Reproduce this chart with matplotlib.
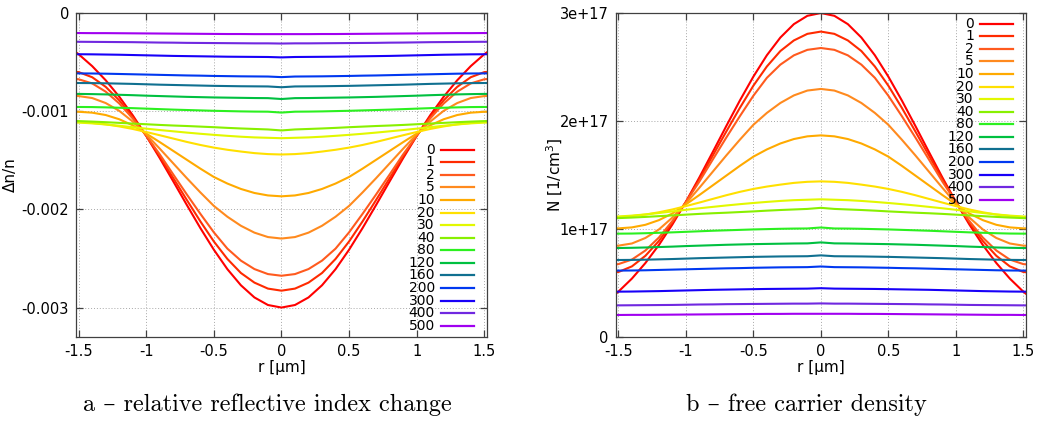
"""Carrier density and refractive index change profiles for several delays."""

import numpy as np
import matplotlib

matplotlib.use("Agg")
import matplotlib.pyplot as plt

# radial positions of the half profile [um]; profiles are symmetric in r
r_half = [0.0, 0.1, 0.2, 0.3, 0.4, 0.5, 0.6, 0.7, 0.8, 0.9, 1.0,
          1.1, 1.2, 1.3, 1.4, 1.5, 1.52]

# delay labels of the curves
delays = ["0", "1", "2", "5", "10", "20", "30", "40", "80", "120", "160",
          "200", "300", "400", "500"]

# free carrier density, in units of 1e17 1/cm^3
n_t0 = [3.000, 2.974, 2.897, 2.773, 2.609, 2.411, 2.190, 1.955, 1.715, 1.478, 1.252,
        1.042, 0.852, 0.685, 0.541, 0.420, 0.400]
n_t1 = [2.828, 2.807, 2.746, 2.648, 2.505, 2.327, 2.122, 1.904, 1.682, 1.460, 1.250,
        1.060, 0.889, 0.752, 0.654, 0.602, 0.600]
n_t2 = [2.676, 2.659, 2.608, 2.522, 2.400, 2.234, 2.045, 1.848, 1.645, 1.440, 1.250,
        1.074, 0.921, 0.801, 0.717, 0.675, 0.673]
n_t5 = [2.297, 2.282, 2.237, 2.167, 2.075, 1.965, 1.827, 1.682, 1.532, 1.382, 1.237,
        1.106, 0.996, 0.917, 0.866, 0.846, 0.845]
n_t10 = [1.867, 1.858, 1.833, 1.792, 1.737, 1.670, 1.585, 1.495, 1.405, 1.315, 1.228,
         1.144, 1.082, 1.039, 1.015, 1.006, 1.006]
n_t20 = [1.441, 1.437, 1.427, 1.411, 1.393, 1.371, 1.344, 1.313, 1.279, 1.245, 1.212,
         1.181, 1.155, 1.134, 1.120, 1.111, 1.110]
n_t30 = [1.275, 1.271, 1.267, 1.260, 1.251, 1.241, 1.230, 1.218, 1.205, 1.192, 1.178,
         1.163, 1.148, 1.135, 1.124, 1.116, 1.115]
n_t40 = [1.196, 1.186, 1.181, 1.176, 1.170, 1.163, 1.157, 1.151, 1.146, 1.140, 1.133,
         1.126, 1.119, 1.112, 1.106, 1.101, 1.100]
n_t80 = [1.014, 1.005, 1.004, 1.002, 0.999, 0.996, 0.992, 0.988, 0.984, 0.979, 0.974,
         0.969, 0.965, 0.961, 0.958, 0.957, 0.957]
n_t120 = [0.876, 0.867, 0.866, 0.864, 0.862, 0.860, 0.857, 0.854, 0.850, 0.846, 0.842,
          0.837, 0.833, 0.829, 0.826, 0.824, 0.824]
n_t160 = [0.756, 0.748, 0.747, 0.746, 0.744, 0.742, 0.739, 0.736, 0.733, 0.730, 0.726,
          0.722, 0.719, 0.716, 0.714, 0.713, 0.713]
n_t200 = [0.653, 0.647, 0.646, 0.645, 0.643, 0.641, 0.638, 0.636, 0.633, 0.630, 0.627,
          0.624, 0.621, 0.618, 0.616, 0.615, 0.615]
n_t300 = [0.452, 0.448, 0.447, 0.446, 0.445, 0.443, 0.441, 0.439, 0.437, 0.434, 0.431,
          0.428, 0.425, 0.423, 0.421, 0.420, 0.420]
n_t400 = [0.311, 0.309, 0.309, 0.308, 0.307, 0.306, 0.305, 0.304, 0.302, 0.301, 0.299,
          0.297, 0.296, 0.295, 0.294, 0.293, 0.293]
n_t500 = [0.215, 0.215, 0.215, 0.214, 0.214, 0.213, 0.212, 0.211, 0.210, 0.209, 0.208,
          0.207, 0.206, 0.205, 0.205, 0.204, 0.204]

densities = [n_t0, n_t1, n_t2, n_t5, n_t10, n_t20, n_t30, n_t40, n_t80, n_t120,
             n_t160, n_t200, n_t300, n_t400, n_t500]

colors = ["#ff0000", "#ff2a00", "#ff5a1e", "#ff8a1e", "#ffaa00", "#ffe000", "#e2f800",
          "#88f000", "#2cf020", "#00c040", "#107090", "#0038f0", "#1800f8", "#7028e0",
          "#a000f0"]

N_UNIT = 1e17          # plotted density unit [1/cm^3]
DN_PER_N = -1e-20      # relative index change per carrier [cm^3]

plt.rcParams["font.family"] = ["DejaVu Sans"]
plt.rcParams["axes.unicode_minus"] = False

FRAME = "#404040"


def mirror(values):
    values = np.asarray(values, dtype=float)
    return np.concatenate([values[::-1], values[1:]])


def style_axis(ax):
    ax.set_xlim(-1.52, 1.52)
    ax.set_xticks([-1.5, -1, -0.5, 0, 0.5, 1, 1.5])
    ax.set_xticklabels(["-1.5", "-1", "-0.5", "0", "0.5", "1", "1.5"])
    ax.tick_params(direction="in", length=5, width=0.9, color=FRAME, labelsize=10.5,
                   top=True, right=True, pad=5)
    ax.grid(True, linestyle=(0, (1, 2)), color="#a8a8a8", linewidth=0.7)
    ax.set_axisbelow(True)
    for spine in ax.spines.values():
        spine.set_color(FRAME)
        spine.set_linewidth(0.9)
    ax.set_xlabel("r [µm]", fontsize=11, labelpad=1)


def draw_key(ax, y0):
    step = 12.57 / 324
    for i, (label, color) in enumerate(zip(delays, colors)):
        y = y0 - i * step
        ax.text(0.873, y, label, transform=ax.transAxes, ha="right", va="center",
                fontsize=10, zorder=5)
        ax.plot([0.889, 0.968], [y, y], transform=ax.transAxes, color=color,
                lw=1.6, zorder=5, clip_on=False)


r_full = np.concatenate([-np.asarray(r_half)[::-1], np.asarray(r_half)[1:]])

fig = plt.figure(figsize=(10.39, 4.21), dpi=100)
ax_a = fig.add_axes([0.0731, 0.1995, 0.3956, 0.7696])
ax_b = fig.add_axes([0.5926, 0.1995, 0.3949, 0.7696])

for dens, color in zip(densities, colors):
    n = mirror(dens) * N_UNIT
    ax_a.plot(r_full, n * DN_PER_N, color=color, lw=1.5)
    ax_b.plot(r_full, n, color=color, lw=1.5)

style_axis(ax_a)
ax_a.set_ylim(-0.0033, 0)
ax_a.set_yticks([0, -0.001, -0.002, -0.003])
ax_a.set_yticklabels(["0", "-0.001", "-0.002", "-0.003"])
ax_a.set_ylabel("Δn/n", fontsize=11)
ax_a.yaxis.set_label_coords(-0.141, 0.5)
draw_key(ax_a, 0.578)

style_axis(ax_b)
ax_b.set_ylim(0, 3e17)
ax_b.set_yticks([0, 1e17, 2e17, 3e17])
ax_b.set_yticklabels(["0", "1e+17", "2e+17", "3e+17"])
ax_b.set_ylabel("N [1/cm$^3$]", fontsize=11)
ax_b.yaxis.set_label_coords(-0.124, 0.5)
draw_key(ax_b, 0.967)

caption_font = ["cmr10", "DejaVu Serif"]
fig.text(0.2575, 0.038, "a – relative reflective index change", ha="center",
         va="center", fontsize=17.5, family=caption_font)
fig.text(0.776, 0.038, "b – free carrier density", ha="center", va="center",
         fontsize=17.5, family=caption_font)

fig.savefig("out.png", dpi=100)
